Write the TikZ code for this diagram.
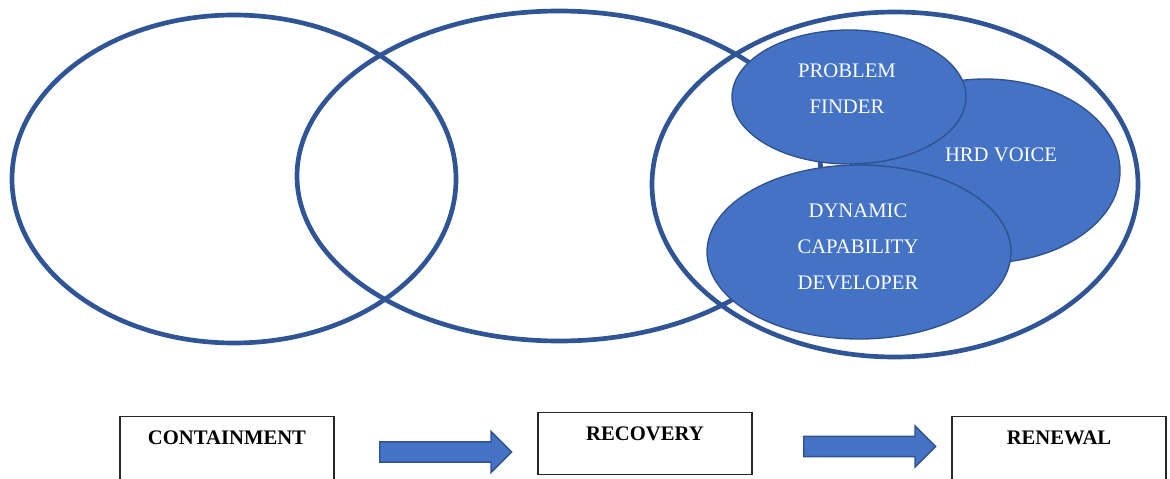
\documentclass[tikz,border=0pt]{standalone}
\usepackage{fontspec}
\setmainfont{Liberation Serif}
\usetikzlibrary{shapes.geometric,shapes.arrows}
\definecolor{ringblue}{HTML}{2F5597}
\definecolor{fillblue}{HTML}{4472C4}
\definecolor{edgeblue}{HTML}{2F528F}
\begin{document}
\begin{tikzpicture}[x=0.75pt,y=-0.75pt,
  ring/.style={ellipse, draw=ringblue, line width=3.5pt, inner sep=0pt},
  role/.style={ellipse, draw=edgeblue, fill=fillblue, line width=1pt, inner sep=0pt},
  roletext/.style={text=white, align=center, inner sep=0pt, font=\fontsize{15.5}{27}\selectfont},
  stage/.style={draw=black!85, line width=1pt, minimum width=160.5pt, inner sep=0pt, anchor=north},
  stagetext/.style={anchor=base, inner sep=0pt, font=\bfseries\fontsize{15.5}{18}\selectfont},
  flow/.style={single arrow, draw=edgeblue, fill=fillblue, line width=1pt,
    inner sep=0pt, inner ysep=7.1pt, single arrow head extend=7.9pt,
    minimum height=99pt, anchor=tail}]
\clip (0,0) rectangle (1170,478);

% three phase rings
\node[ring, minimum width=333pt, minimum height=246pt] (ring-contain) at (234,179) {};
\node[ring, minimum width=393pt, minimum height=247.5pt] (ring-recover) at (559,176) {};
\node[ring, minimum width=364.5pt, minimum height=258.75pt] (ring-renew) at (895,184.5) {};

% HRD roles inside the renewal ring
\node[role, minimum width=202.5pt, minimum height=138pt] (hrd) at (985,171) {};
\node[role, minimum width=175.5pt, minimum height=100.5pt] (finder) at (849,97) {};
\node[role, minimum width=228pt, minimum height=130.5pt] (dynamic) at (859,252) {};
\node[roletext] (hrd-label) at (1001,155) {HRD VOICE};
\node[roletext] (finder-label) at (847,89) {PROBLEM\\FINDER};
\node[roletext] (dynamic-label) at (858,247) {DYNAMIC\\CAPABILITY\\DEVELOPER};

% phase boxes
\node[stage, minimum height=60pt] (containment) at (227,416) {};
\node[stage, minimum height=46.5pt] (recovery) at (645,412) {};
\node[stage, minimum height=60pt] (renewal) at (1059,416) {};
\node[stagetext] (containment-label) at ([yshift=-21pt]containment.north) {CONTAINMENT};
\node[stagetext] (recovery-label) at ([yshift=-21pt]recovery.north) {RECOVERY};
\node[stagetext] (renewal-label) at ([yshift=-21pt]renewal.north) {RENEWAL};

% block arrows between phases
\node[flow] (step-one) at (379,452) {};
\node[flow] (step-two) at (803,446.5) {};
\end{tikzpicture}
\end{document}
